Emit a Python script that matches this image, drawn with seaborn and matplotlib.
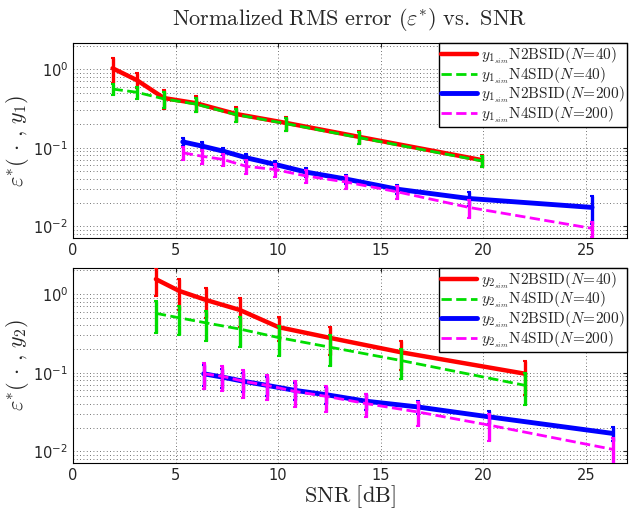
import numpy as np
import pandas as pd
import matplotlib
matplotlib.use("Agg")
import matplotlib.pyplot as plt
import seaborn as sns

# --- data (SNR in dB, normalized RMS error, error bar half-width)
snr1_40 = [1.93, 3.1, 4.43, 5.99, 7.93, 10.4, 13.93, 19.93]
y1_n2_40 = [1.03, 0.73, 0.43, 0.37, 0.27, 0.207, 0.138, 0.0697]
e1_n2_40 = [0.37, 0.16, 0.12, 0.087, 0.06, 0.043, 0.025, 0.012]
y1_n4_40 = [0.56, 0.51, 0.42, 0.36, 0.265, 0.203, 0.135, 0.068]
e1_n4_40 = [0.095, 0.09, 0.1, 0.075, 0.05, 0.037, 0.022, 0.011]

snr1_200 = [5.35, 6.3, 7.32, 8.45, 9.83, 11.37, 13.3, 15.8, 19.3, 25.3]
y1_n2_200 = [0.119, 0.105, 0.0906, 0.0746, 0.0616, 0.049, 0.04, 0.0297, 0.0226, 0.0174]
e1_n2_200 = [0.015, 0.012, 0.01, 0.008, 0.007, 0.006, 0.005, 0.004, 0.0045, 0.0066]
y1_n4_200 = [0.0865, 0.078, 0.071, 0.058, 0.053, 0.0437, 0.0367, 0.0275, 0.0174, 0.0094]
e1_n4_200 = [0.017, 0.015, 0.013, 0.011, 0.01, 0.008, 0.007, 0.0053, 0.0045, 0.0021]

snr2_40 = [4.04, 5.17, 6.5, 8.12, 10.02, 12.54, 15.99, 22.04]
y2_n2_40 = [1.55, 1.10, 0.84, 0.63, 0.38, 0.277, 0.182, 0.097]
e2_n2_40 = [0.6, 0.47, 0.35, 0.25, 0.13, 0.11, 0.075, 0.045]
y2_n4_40 = [0.57, 0.50, 0.43, 0.36, 0.28, 0.211, 0.143, 0.069]
e2_n4_40 = [0.25, 0.2, 0.18, 0.15, 0.115, 0.09, 0.06, 0.03]

snr2_200 = [6.37, 7.28, 8.29, 9.46, 10.8, 12.35, 14.29, 16.8, 20.3, 26.3]
y2_n2_200 = [0.097, 0.088, 0.078, 0.069, 0.0597, 0.0525, 0.0434, 0.0367, 0.0274, 0.0169]
e2_n2_200 = [0.03, 0.025, 0.021, 0.018, 0.015, 0.013, 0.01, 0.007, 0.005, 0.0033]
y2_n4_200 = [0.097, 0.09, 0.078, 0.069, 0.058, 0.05, 0.0405, 0.0317, 0.0215, 0.0106]
e2_n4_200 = [0.035, 0.032, 0.03, 0.024, 0.021, 0.018, 0.013, 0.0105, 0.008, 0.004]

methods = ["N2BSID", "N4SID", "N2BSID", "N4SID"]
n_vals = [40, 40, 200, 200]
colors = ["#ff0000", "#00dd00", "#0000ff", "#ff00ff"]
styles = ["-", "--", "-", "--"]
widths = [3.2, 2.0, 3.5, 2.0]

panels = [
    (1, [(snr1_40, y1_n2_40, e1_n2_40), (snr1_40, y1_n4_40, e1_n4_40),
         (snr1_200, y1_n2_200, e1_n2_200), (snr1_200, y1_n4_200, e1_n4_200)]),
    (2, [(snr2_40, y2_n2_40, e2_n2_40), (snr2_40, y2_n4_40, e2_n4_40),
         (snr2_200, y2_n2_200, e2_n2_200), (snr2_200, y2_n4_200, e2_n4_200)]),
]

sns.set_style("white")
plt.rcParams["font.family"] = ["DejaVu Sans"]
plt.rcParams["mathtext.fontset"] = "cm"
plt.rcParams["axes.unicode_minus"] = False

fig = plt.figure(figsize=(6.32, 5.14), dpi=100)
boxes = [[0.1155, 0.537, 0.8765, 0.379], [0.1155, 0.0992, 0.8765, 0.3794]]
grid_kw = dict(linestyle=(0, (1, 3)), color="#444444", linewidth=0.6)

for (k, series), box in zip(panels, boxes):
    ax = fig.add_axes(box)
    for (x, y, e), m, n, c, ls, lw in zip(series, methods, n_vals, colors, styles, widths):
        df = pd.DataFrame({"snr": x, "err": y})
        label = r"$y_{%d_{sim}}$" % k + r"$\mathrm{%s}(N\!=\!%d)$" % (m, n)
        sns.lineplot(data=df, x="snr", y="err", ax=ax, color=c, linestyle=ls,
                     linewidth=lw, label=label, zorder=3)
        ax.errorbar(x, y, yerr=e, fmt="none", ecolor=c, elinewidth=2.4,
                    capsize=1.5, capthick=1.5, zorder=3)
    ax.set_yscale("log")
    ax.set_xlim(0, 27)
    ax.set_ylim(0.0071, 2.15)
    ax.set_xticks([0, 5, 10, 15, 20, 25])
    ax.grid(True, which="major", axis="x", **grid_kw)
    ax.grid(True, which="both", axis="y", **grid_kw)
    ax.tick_params(direction="in", which="both", top=True, right=True, labelsize=10.5,
                   length=3)
    ax.tick_params(which="minor", length=1.5)
    for s in ax.spines.values():
        s.set_linewidth(0.8)
        s.set_color("black")
    ax.set_xlabel("")
    ax.set_ylabel(r"$\varepsilon^{*}(\,\cdot\,,\,y_{%d})$" % k, fontsize=16, labelpad=2)
    leg = ax.legend(loc="upper right", fontsize=11, handlelength=2.3, borderpad=0.15,
                    labelspacing=-0.05, handletextpad=0.3, borderaxespad=0.0,
                    fancybox=False, frameon=True, framealpha=1.0)
    leg.get_frame().set_edgecolor("black")
    leg.get_frame().set_linewidth(1.0)
    if k == 1:
        ax.set_title(r"$\mathrm{Normalized\ RMS\ error}\ (\varepsilon^{*})\ \mathrm{vs.\ SNR}$",
                     fontsize=16, pad=13)
    else:
        ax.set_xlabel(r"$\mathrm{SNR\ [dB]}$", fontsize=16, labelpad=0)

fig.savefig("out.png", dpi=100)
